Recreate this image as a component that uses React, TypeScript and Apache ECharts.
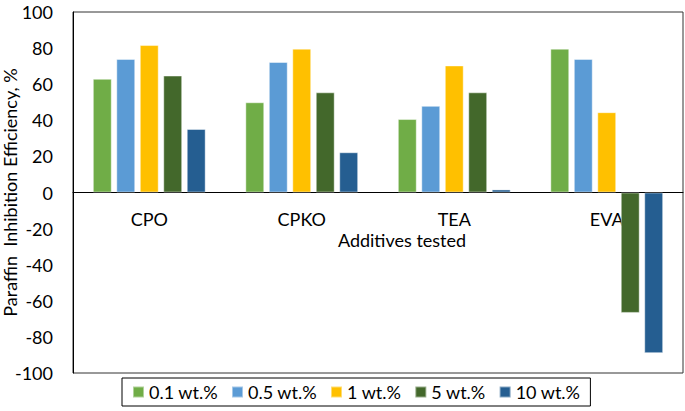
import React, { useEffect, useRef } from "react";
import * as echarts from "echarts";

const categories = ["CPO", "CPKO", "TEA", "EVA"];
const seriesNames = ["0.1 wt.%", "0.5 wt.%", "1 wt.%", "5 wt.%", "10 wt.%"];
const s01 = [63, 50, 40.7, 79.7];
const s05 = [74, 72.3, 48, 74];
const s1 = [81.7, 79.7, 70.4, 44.5];
const s5 = [64.8, 55.5, 55.5, -66.7];
const s10 = [35.2, 22.3, 1.7, -89];
const colors = ["#70AD47", "#5B9BD5", "#FFC000", "#43682B", "#255E91"];
const yTicks = { min: -100, max: 100, interval: 20 };

const FONT = "Lato, 'Noto Sans', sans-serif";
const FS = 18;

export default function App() {
  const ref = useRef<HTMLDivElement>(null);
  useEffect(() => {
    if (!ref.current) return;
    const chart = echarts.init(ref.current, undefined, { renderer: "svg" });
    const data = [s01, s05, s1, s5, s10];
    const H = 411;
    const left = 73;
    const right = 2;
    const top = 12;
    const bottom = 38;
    const plotH = H - top - bottom;
    const zeroFromTop = (plotH * (yTicks.max - 0)) / (yTicks.max - yTicks.min);
    chart.setOption({
      animation: false,
      textStyle: { fontFamily: FONT },
      grid: [
        {
          left,
          right,
          top,
          bottom,
          show: true,
          borderColor: "#333",
          borderWidth: 1,
          outerBoundsMode: "none",
          containLabel: false,
        },
        {
          left,
          right,
          top,
          height: zeroFromTop,
          outerBoundsMode: "none",
          containLabel: false,
        },
      ],
      legend: {
        left: 122,
        top: 378,
        icon: "rect",
        itemWidth: 11,
        itemHeight: 11,
        itemGap: 13,
        borderColor: "#000",
        borderWidth: 1,
        padding: [5, 10, 5, 10],
        textStyle: { fontSize: FS, color: "#000", fontFamily: FONT },
        data: seriesNames,
      },
      xAxis: [
        {
          type: "category",
          gridIndex: 0,
          data: categories,
          axisLine: { show: false },
          axisTick: { show: false },
          axisLabel: { show: false },
        },
        {
          type: "category",
          gridIndex: 1,
          data: categories,
          position: "bottom",
          axisLine: { show: true, onZero: false, lineStyle: { color: "#000", width: 1 } },
          axisTick: { show: false },
          axisLabel: { fontSize: FS, color: "#000", margin: 17, fontFamily: FONT },
          name: "Additives tested",
          nameLocation: "middle",
          nameGap: 38,
          nameMoveOverlap: false,
          nameTextStyle: {
            fontSize: FS,
            color: "#000",
            fontFamily: FONT,
            padding: [0, 0, 0, 48],
          },
          z: 1,
        },
      ],
      yAxis: [
        {
          type: "value",
          gridIndex: 0,
          min: yTicks.min,
          max: yTicks.max,
          interval: yTicks.interval,
          splitLine: { show: false },
          axisLine: { show: true, lineStyle: { color: "#000", width: 1 } },
          axisTick: { show: false },
          axisLabel: { fontSize: FS, color: "#000", margin: 20, fontFamily: FONT },
          name: "Paraffin  Inhibition Efficiency, %",
          nameLocation: "middle",
          nameGap: 54,
          nameMoveOverlap: false,
          nameTextStyle: { fontSize: FS, color: "#000", fontFamily: FONT },
        },
        {
          type: "value",
          gridIndex: 1,
          min: 0,
          max: 1,
          show: false,
        },
      ],
      series: seriesNames.map((name, i) => ({
        name,
        type: "bar",
        xAxisIndex: 0,
        yAxisIndex: 0,
        data: data[i],
        barCategoryGap: "26%",
        barGap: "24%",
        z: 3,
        itemStyle: {
          color: colors[i],
          borderColor: "rgba(255,255,255,0.45)",
          borderWidth: 1,
        },
      })),
    });
    return () => chart.dispose();
  }, []);
  return <div ref={ref} style={{ width: 685, height: 411, position: "absolute", left: 0, top: 0 }} />;
}
